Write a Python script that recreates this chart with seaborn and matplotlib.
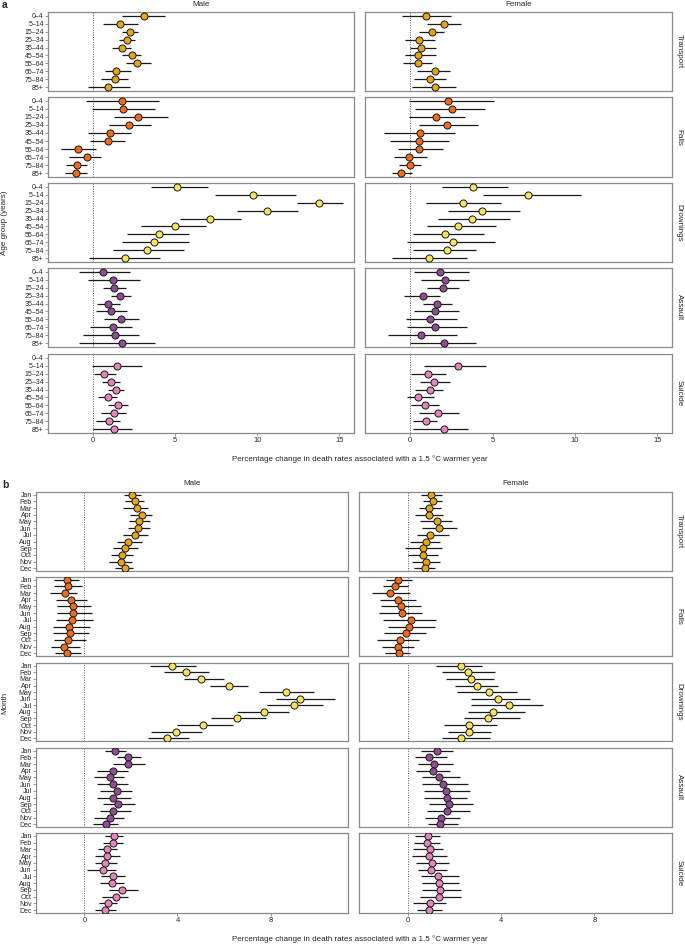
import numpy as np
import pandas as pd
import matplotlib
matplotlib.use('Agg')
import matplotlib.pyplot as plt
import seaborn as sns

sns.set_style('white')
plt.rcParams['font.family'] = ['Liberation Sans', 'DejaVu Sans']

# ======================
# DATA  (estimate, lower, upper)
# ======================
AGES = ['0–4', '5–14', '15–24', '25–34', '35–44', '45–54', '55–64', '65–74', '75–84', '85+']
MONTHS = ['Jan', 'Feb', 'Mar', 'Apr', 'May', 'Jun', 'Jul', 'Aug', 'Sep', 'Oct', 'Nov', 'Dec']
CAUSES = ['Transport', 'Falls', 'Drownings', 'Assault', 'Suicide']
NA = (np.nan, np.nan, np.nan)

# panel a - age groups, male
age_m_transport = [(3.09, 1.76, 4.38), (1.62, 0.61, 2.72), (2.23, 1.74, 2.72), (2.04, 1.55, 2.58), (1.76, 1.17, 2.33),
                   (2.35, 1.76, 2.90), (2.68, 2.02, 3.52), (1.37, 0.70, 2.33), (1.35, 0.51, 2.13), (0.90, -0.31, 2.27)]
age_m_falls = [(1.78, -0.43, 4.01), (1.82, -0.06, 3.78), (2.74, 1.29, 4.56), (2.21, 0.98, 3.52), (1.04, -0.31, 2.29),
               (0.90, -0.22, 1.92), (-0.90, -1.98, 0.16), (-0.39, -1.47, 0.47), (-0.98, -1.68, -0.39), (-1.02, -1.72, -0.39)]
age_m_drown = [(5.13, 3.50, 7.01), (9.75, 7.42, 12.37), (13.78, 12.45, 15.23), (10.61, 8.79, 12.47), (7.12, 5.32, 9.00),
               (4.97, 2.92, 6.91), (3.99, 2.07, 5.87), (3.70, 1.78, 5.85), (3.31, 1.21, 5.56), (1.96, -0.25, 4.09)]
age_m_assault = [(0.61, -0.88, 2.27), (1.21, -0.33, 2.88), (1.29, 0.63, 1.98), (1.66, 1.08, 2.33), (0.92, 0.25, 1.66),
                 (1.06, 0.16, 2.04), (1.70, 0.67, 2.82), (1.19, -0.16, 2.37), (1.31, -0.59, 2.82), (1.76, -0.84, 3.80)]
age_m_suicide = [NA, (1.45, -0.08, 2.97), (0.67, 0.04, 1.41), (1.12, 0.53, 1.62), (1.37, 0.92, 1.90),
                 (0.90, 0.29, 1.45), (1.53, 0.92, 2.13), (1.25, 0.51, 1.98), (0.94, 0.20, 1.62), (1.27, 0.02, 2.35)]

# panel a - age groups, female
age_f_transport = [(0.98, -0.49, 2.47), (2.02, 1.00, 3.10), (1.31, 0.55, 2.04), (0.55, -0.31, 1.49), (0.63, -0.04, 1.59),
                   (0.47, -0.35, 1.55), (0.49, -0.45, 1.35), (1.49, 0.43, 2.41), (1.18, 0.22, 2.16), (1.53, 0.08, 2.78)]
age_f_falls = [(2.27, -0.10, 5.08), (2.55, 0.31, 4.53), (1.55, -0.06, 3.31), (2.24, 0.55, 4.14), (0.59, -1.59, 2.73),
               (0.51, -1.22, 2.37), (0.55, -0.73, 2.00), (-0.06, -1.00, 1.02), (-0.04, -0.69, 0.63), (-0.57, -1.10, 0.08)]
age_f_drown = [(3.84, 1.90, 5.94), (7.16, 4.43, 10.39), (3.22, 0.98, 5.49), (4.37, 2.27, 6.69), (3.76, 1.67, 6.04),
               (2.92, 1.02, 5.18), (2.14, 0.16, 4.49), (2.61, -0.20, 5.12), (2.24, 0.16, 4.00), (1.14, -1.14, 3.45)]
age_f_assault = [(1.80, 0.22, 3.57), (2.08, 0.63, 3.59), (2.00, 1.04, 2.98), (0.78, -0.37, 1.80), (1.63, 0.78, 2.53),
                 (1.51, 0.22, 2.98), (1.20, -0.27, 2.84), (1.49, -0.18, 3.45), (0.63, -1.35, 2.84), (2.06, 0.00, 4.00)]
age_f_suicide = [NA, (2.90, 0.84, 4.59), (1.06, 0.04, 2.16), (1.45, 0.59, 2.41), (1.20, 0.29, 1.96),
                 (0.49, -0.20, 1.45), (0.92, 0.04, 1.76), (1.71, 0.53, 2.98), (0.96, 0.18, 1.63), (2.04, 0.16, 3.49)]

# panel b - months, male
mon_m_transport = [(2.06, 1.72, 2.42), (2.16, 1.75, 2.55), (2.27, 1.68, 2.72), (2.49, 1.96, 2.92), (2.35, 1.91, 2.81),
                   (2.31, 1.88, 2.82), (2.18, 1.65, 2.75), (1.86, 1.39, 2.49), (1.76, 1.23, 2.29), (1.62, 1.15, 2.08),
                   (1.58, 1.06, 2.04), (1.73, 1.33, 2.08)]
mon_m_falls = [(-0.76, -1.29, -0.23), (-0.70, -1.32, -0.11), (-0.85, -1.48, -0.30), (-0.59, -1.23, 0.11),
               (-0.49, -1.18, 0.29), (-0.50, -1.16, 0.34), (-0.54, -1.22, 0.37), (-0.67, -1.35, 0.24),
               (-0.60, -1.35, 0.19), (-0.69, -1.29, 0.09), (-0.87, -1.43, -0.19), (-0.76, -1.26, -0.16)]
mon_m_drown = [(3.77, 2.80, 4.80), (4.37, 3.41, 5.35), (5.00, 4.26, 5.98), (6.21, 5.38, 7.04), (8.67, 7.50, 9.86),
               (9.28, 8.22, 10.75), (8.99, 7.84, 10.25), (7.74, 6.55, 8.80), (6.54, 5.45, 7.80), (5.09, 3.99, 6.37),
               (3.93, 2.88, 5.06), (3.57, 2.75, 4.49)]
mon_m_assault = [(1.33, 0.90, 1.79), (1.86, 1.40, 2.44), (1.89, 1.25, 2.59), (1.22, 0.54, 1.88), (1.10, 0.43, 1.69),
                 (1.22, 0.56, 1.88), (1.39, 0.66, 2.04), (1.22, 0.56, 1.99), (1.43, 0.80, 2.16), (1.22, 0.65, 1.99),
                 (1.09, 0.42, 1.69), (0.93, 0.37, 1.43)]
mon_m_suicide = [(1.26, 0.90, 1.65), (1.25, 0.79, 1.65), (0.96, 0.60, 1.39), (0.97, 0.47, 1.52), (0.90, 0.47, 1.39),
                 (0.82, 0.13, 1.36), (1.22, 0.72, 1.73), (1.19, 0.69, 1.71), (1.61, 1.06, 2.29), (1.35, 0.75, 1.88),
                 (1.03, 0.62, 1.39), (0.87, 0.47, 1.36)]

# panel b - months, female
mon_f_transport = [(1.01, 0.59, 1.46), (1.07, 0.67, 1.47), (0.90, 0.50, 1.44), (0.91, 0.33, 1.50), (1.26, 0.53, 1.90),
                   (1.34, 0.64, 2.10), (0.97, 0.39, 1.76), (0.77, 0.09, 1.41), (0.67, -0.11, 1.49), (0.67, 0.00, 1.31),
                   (0.79, 0.21, 1.37), (0.76, 0.27, 1.16)]
mon_f_falls = [(-0.39, -0.93, 0.19), (-0.54, -1.06, 0.03), (-0.74, -1.51, 0.11), (-0.43, -1.19, 0.37),
               (-0.30, -1.14, 0.56), (-0.24, -1.21, 0.60), (0.14, -1.06, 1.24), (0.07, -0.84, 1.16),
               (-0.07, -1.01, 0.77), (-0.33, -1.33, 0.49), (-0.39, -1.10, 0.26), (-0.37, -0.96, 0.09)]
mon_f_drown = [(2.30, 1.23, 3.21), (2.57, 1.47, 3.74), (2.70, 1.64, 3.69), (2.97, 2.03, 3.87), (3.47, 2.13, 4.69),
               (3.89, 2.70, 5.26), (4.34, 2.70, 5.80), (3.67, 2.60, 5.03), (3.46, 2.40, 4.80), (2.63, 1.56, 3.83),
               (2.63, 1.73, 3.56), (2.31, 1.46, 3.53)]
mon_f_assault = [(1.27, 0.57, 1.96), (0.90, 0.33, 1.69), (1.13, 0.44, 1.94), (1.11, 0.37, 1.81), (1.33, 0.61, 2.26),
                 (1.54, 0.61, 2.57), (1.64, 0.70, 2.66), (1.67, 0.70, 2.53), (1.78, 0.90, 2.81), (1.70, 0.83, 2.67),
                 (1.44, 0.76, 2.23), (1.41, 0.89, 2.16)]
mon_f_suicide = [(0.86, 0.33, 1.41), (0.84, 0.27, 1.37), (0.96, 0.23, 1.54), (0.94, 0.19, 1.69), (1.03, 0.37, 1.76),
                 (1.01, 0.43, 1.71), (1.29, 0.57, 2.19), (1.34, 0.61, 2.21), (1.40, 0.60, 2.31), (1.36, 0.54, 2.29),
                 (0.96, 0.23, 1.63), (0.90, 0.41, 1.47)]

COLORS = {'Transport': '#E8A517', 'Falls': '#F26C1C', 'Drownings': '#F8E25E',
          'Assault': '#924C97', 'Suicide': '#E585BD'}

panel_a = {'Male': [age_m_transport, age_m_falls, age_m_drown, age_m_assault, age_m_suicide],
           'Female': [age_f_transport, age_f_falls, age_f_drown, age_f_assault, age_f_suicide]}
panel_b = {'Male': [mon_m_transport, mon_m_falls, mon_m_drown, mon_m_assault, mon_m_suicide],
           'Female': [mon_f_transport, mon_f_falls, mon_f_drown, mon_f_assault, mon_f_suicide]}


def to_frame(series, labels):
    df = pd.DataFrame(series, columns=['est', 'lo', 'hi'])
    df['group'] = labels
    df['pos'] = np.arange(len(labels))
    return df


# ======================
# LAYOUT (pixels -> figure fraction)
# ======================
W, H = 685, 944
fig = plt.figure(figsize=(W / 100, H / 100), dpi=100)


def px_axes(x0, y0, x1, y1):
    return fig.add_axes([x0 / W, 1 - y1 / H, (x1 - x0) / W, (y1 - y0) / H])


EDGE = '#8a8a8a'
TICK_FS = 5.0
LAB_FS = 5.8


def draw_panel(data, labels, cols_px, rows_px, xlim, xticks, ylabel, letter, top_px):
    for j, sex in enumerate(['Male', 'Female']):
        x0, x1 = cols_px[j]
        for i, cause in enumerate(CAUSES):
            y0, y1 = rows_px[i]
            ax = px_axes(x0, y0, x1, y1)
            df = to_frame(data[sex][i], labels)
            ok = df.dropna()
            ax.axvline(0, color='#555555', ls=(0, (1, 1.5)), lw=0.7, zorder=1)
            ax.hlines(ok['pos'], ok['lo'], ok['hi'], color='#1a1a1a', lw=0.9, zorder=2)
            sns.scatterplot(data=ok, x='est', y='pos', ax=ax, color=COLORS[cause],
                            edgecolor='#1a1a1a', linewidth=0.7, s=26, zorder=3, legend=False)
            n = len(labels)
            pad = 0.45 if n == 10 else 0.42
            ax.set_ylim(n - 1 + pad, -pad)
            ax.set_xlim(*xlim)
            ax.set_xlabel('')
            ax.set_ylabel('')
            for s in ax.spines.values():
                s.set_color(EDGE)
                s.set_linewidth(0.9)
            ax.tick_params(axis='both', length=2, width=0.6, color=EDGE, pad=1,
                           labelsize=TICK_FS, direction='out')
            ax.set_yticks(df['pos'])
            if j == 0:
                ax.set_yticklabels(labels)
                ax.tick_params(axis='y', left=True)
            else:
                ax.set_yticklabels([])
                ax.tick_params(axis='y', left=False)
                fig.text(679 / W, 1 - ((y0 + y1) / 2) / H, cause,
                         rotation=270, ha='center', va='center', fontsize=LAB_FS)
            ax.set_xticks(xticks)
            if i == len(CAUSES) - 1:
                ax.tick_params(axis='x', bottom=True, labelsize=5.4)
                ax.set_xticklabels([str(t) for t in xticks])
            else:
                ax.tick_params(axis='x', bottom=False)
                ax.set_xticklabels([])
        fig.text(((x0 + x1) / 2) / W, 1 - (top_px - 8) / H, sex, ha='center', va='center', fontsize=LAB_FS)

    fig.text(2 / W, 1 - (top_px - 7) / H, letter, ha='left', va='center', fontsize=7.5, fontweight='bold')
    mid_y = (rows_px[0][0] + rows_px[-1][1]) / 2
    fig.text(5 / W, 1 - mid_y / H, ylabel, rotation=90, ha='center', va='center', fontsize=LAB_FS)
    fig.text(360 / W, 1 - (rows_px[-1][1] + 26) / H,
             'Percentage change in death rates associated with a 1.5 °C warmer year',
             ha='center', va='center', fontsize=LAB_FS)


rows_a = [(12, 91), (97, 177), (183, 262), (268, 347), (354, 433)]
rows_b = [(492, 571), (577, 656), (663, 741), (748, 827), (833, 913)]

draw_panel(panel_a, AGES, [(48, 354), (365, 672)], rows_a, (-2.75, 15.9), [0, 5, 10, 15],
           'Age group (years)', 'a', 12)
draw_panel(panel_b, MONTHS, [(36, 348), (359, 672)], rows_b, (-2.08, 11.33), [0, 4, 8],
           'Month', 'b', 492)

fig.savefig('out.png', dpi=100)
